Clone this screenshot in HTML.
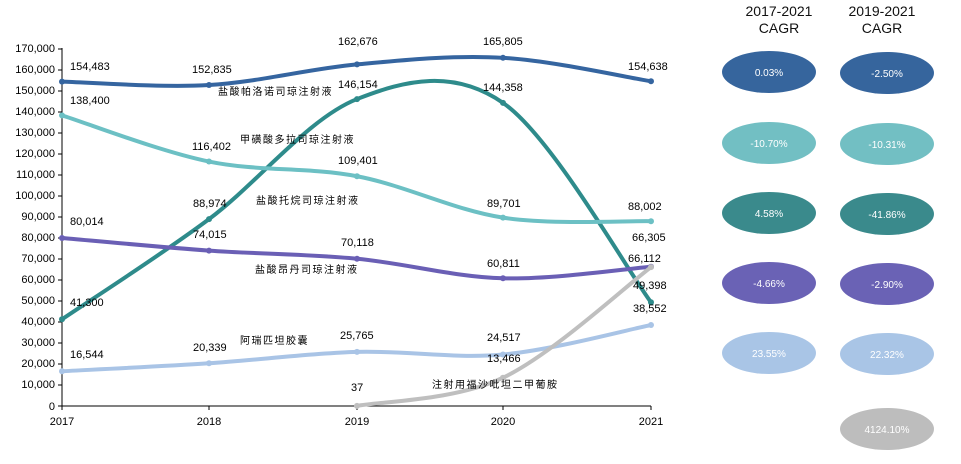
<!DOCTYPE html>
<html><head><meta charset="utf-8"><style>
html,body{margin:0;padding:0;background:#fff;}
svg text{font-family:"Liberation Sans","Noto Sans CJK SC",sans-serif;}
</style></head><body>
<svg id="s" width="961" height="459" viewBox="0 0 961 459" xmlns="http://www.w3.org/2000/svg">
<g font-size="11" fill="#000" text-anchor="end">
<text x="55" y="52">170,000</text><text x="55" y="73">160,000</text><text x="55" y="94">150,000</text>
<text x="55" y="115">140,000</text><text x="55" y="136">130,000</text><text x="55" y="157">120,000</text>
<text x="55" y="178">110,000</text><text x="55" y="199">100,000</text><text x="55" y="220">90,000</text>
<text x="55" y="241">80,000</text><text x="55" y="262">70,000</text><text x="55" y="283">60,000</text>
<text x="55" y="304">50,000</text><text x="55" y="325">40,000</text><text x="55" y="346">30,000</text>
<text x="55" y="367">20,000</text><text x="55" y="388">10,000</text><text x="55" y="410">0</text>
</g>
<g stroke="#000" stroke-width="1">
<line x1="62" y1="48" x2="62" y2="406"/>
<line x1="62" y1="406" x2="651" y2="406"/>
<g id="ticks"></g>
</g>
<g font-size="11" text-anchor="middle">
<text x="62" y="425">2017</text><text x="209" y="425">2018</text><text x="357" y="425">2019</text>
<text x="503" y="425">2020</text><text x="651" y="425">2021</text>
</g>
<g id="lines" fill="none" stroke-width="4" stroke-linecap="round"></g>
<g font-size="11" fill="#000">
<text x="70" y="70">154,483</text><text x="192" y="73">152,835</text><text x="338" y="45">162,676</text><text x="483" y="45">165,805</text><text x="628" y="70">154,638</text>
<text x="70" y="104">138,400</text><text x="192" y="150">116,402</text><text x="338" y="164">109,401</text><text x="487" y="207">89,701</text><text x="628" y="210">88,002</text>
<text x="338" y="88">146,154</text><text x="483" y="91">144,358</text><text x="193" y="207">88,974</text><text x="70" y="306">41,300</text>
<text x="70" y="225">80,014</text><text x="193" y="238">74,015</text><text x="341" y="246">70,118</text><text x="487" y="267">60,811</text><text x="632" y="241">66,305</text><text x="628" y="262">66,112</text>
<text x="633" y="289">49,398</text><text x="633" y="312">38,552</text>
<text x="70" y="358">16,544</text><text x="193" y="351">20,339</text><text x="340" y="339">25,765</text><text x="487" y="341">24,517</text><text x="487" y="362">13,466</text><text x="351" y="391">37</text>
</g>
<g font-size="10" fill="#000" letter-spacing="1.5">
<text x="218" y="95">盐酸帕洛诺司琼注射液</text>
<text x="240" y="143">甲磺酸多拉司琼注射液</text>
<text x="256" y="204">盐酸托烷司琼注射液</text>
<text x="255" y="273">盐酸昂丹司琼注射液</text>
<text x="240" y="344">阿瑞匹坦胶囊</text>
<text x="432" y="388">注射用福沙吡坦二甲葡胺</text>
</g>
<g font-size="14" text-anchor="middle" fill="#111">
<text x="779" y="16">2017-2021</text><text x="779" y="33">CAGR</text>
<text x="882" y="16">2019-2021</text><text x="882" y="33">CAGR</text>
</g>
<g id="bub" font-size="10" text-anchor="middle" fill="#fff"></g>
</svg>
<script>
var X=[62,209,357,503,651];
function Y(v){return 406-v*357/170000;}
var ticks='';X.forEach(function(x){ticks+='<line x1="'+x+'" y1="406" x2="'+x+'" y2="410"/>';});
for(var i=0;i<=17;i++){var y=406-i*21;ticks+='<line x1="58" y1="'+y+'" x2="62" y2="'+y+'"/>';}
document.getElementById('ticks').innerHTML=ticks;
function path(xs,vs){var p=xs.map(function(x,i){return [x,Y(vs[i])];});
var d='M'+p[0][0]+','+p[0][1];
for(var i=0;i<p.length-1;i++){var p0=p[i-1]||p[i],p1=p[i],p2=p[i+1],p3=p[i+2]||p[i+1];
d+=' C'+(p1[0]+(p2[0]-p0[0])/6)+','+(p1[1]+(p2[1]-p0[1])/6)+' '+(p2[0]-(p3[0]-p1[0])/6)+','+(p2[1]-(p3[1]-p1[1])/6)+' '+p2[0]+','+p2[1];}
var dots='';p.forEach(function(q){dots+='<circle cx="'+q[0]+'" cy="'+q[1]+'" r="3"/>';});
return [d,dots];}
var S=[
["#2e8b8b",X,[41300,88974,146154,144358,49398]],
["#6cc0c4",X,[138400,116402,109401,89701,88002]],
["#3565a0",X,[154483,152835,162676,165805,154638]],
["#6a5fb5",X,[80014,74015,70118,60811,66305]],
["#a9c4e6",X,[16544,20339,25765,24517,38552]],
["#bfbfbf",[357,503,651],[37,13466,66112]]];
var h='';S.forEach(function(s){var r=path(s[1],s[2]);h+='<path d="'+r[0]+'" stroke="'+s[0]+'"/><g fill="'+s[0]+'" stroke="none">'+r[1]+'</g>';});
document.getElementById('lines').innerHTML=h;
var B=[[72,"#36659d","0.03%","-2.50%"],[143,"#72bfc3","-10.70%","-10.31%"],[213,"#3a8a8c","4.58%","-41.86%"],[283,"#6a62b5","-4.66%","-2.90%"],[353,"#a9c5e6","23.55%","22.32%"],[428,"#bdbdbd",null,"4124.10%"]];
var b='';B.forEach(function(r){
if(r[2]!==null)b+='<ellipse cx="769" cy="'+r[0]+'" rx="47" ry="21" fill="'+r[1]+'"/><text x="769" y="'+(r[0]+4)+'">'+r[2]+'</text>';
b+='<ellipse cx="887" cy="'+(r[0]+1)+'" rx="47" ry="21" fill="'+r[1]+'"/><text x="887" y="'+(r[0]+5)+'">'+r[3]+'</text>';});
document.getElementById('bub').innerHTML=b;
</script>
</body></html>
